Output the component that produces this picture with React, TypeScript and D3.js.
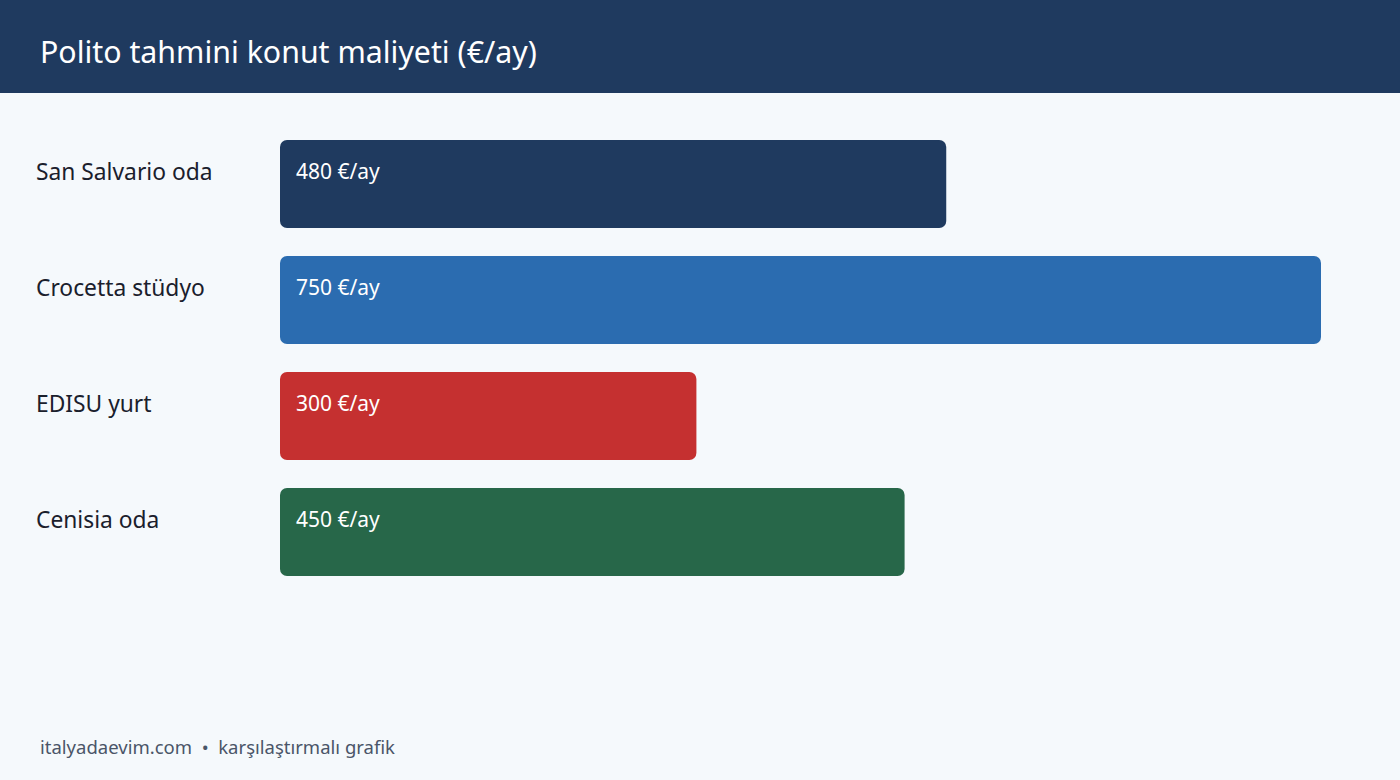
import React from 'react';
import * as d3 from 'd3';

const title = 'Polito tahmini konut maliyeti (€/ay)';
const footer = 'italyadaevim.com  •  karşılaştırmalı grafik';
const categories = ['San Salvario oda', 'Crocetta stüdyo', 'EDISU yurt', 'Cenisia oda'];
const values = [480, 750, 300, 450];
const colors = ['#1f3a5f', '#2b6cb0', '#c53030', '#276749'];
const unit = '€/ay';

export default function App() {
    const w = 1400;
    const h = 780;
    const font = '"Noto Sans", "Open Sans", sans-serif';

    React.useEffect(() => {
        document.body.style.margin = '0';
    }, []);

    const x = d3.scaleLinear()
        .domain([0, d3.max(values)])
        .range([0, 1041]);

    // 88px bars, 116px step
    const y = d3.scaleBand()
        .domain(categories)
        .range([140, 140 + 116 * categories.length - 28])
        .paddingInner(28 / 116)
        .paddingOuter(0)
        .align(0);

    const x0 = 280;

    return (
        <svg width={w} height={h} style={{ display: 'block', fontFamily: font }}>
            <rect width={w} height={h} fill="#f5f9fc" />
            <rect width={w} height={93} fill="#1f3a5f" />
            <text x={40} y={63} fontSize={30.3} fill="#ffffff">{title}</text>
            {categories.map((c, i) => {
                const top = y(c);
                return (
                    <g key={c}>
                        <text x={36} y={top + 40} fontSize={22.8} fill="#1a202c">{c}</text>
                        <rect
                            x={x0}
                            y={top}
                            width={x(values[i])}
                            height={y.bandwidth()}
                            rx={7}
                            fill={colors[i]}
                        />
                        <text x={x0 + 16} y={top + 39} fontSize={21} fill="#ffffff">
                            {`${values[i]} ${unit}`}
                        </text>
                    </g>
                );
            })}
            <text x={40} y={754} fontSize={18.5} fill="#4a5568" style={{ whiteSpace: 'pre' }}>{footer}</text>
        </svg>
    );
}
